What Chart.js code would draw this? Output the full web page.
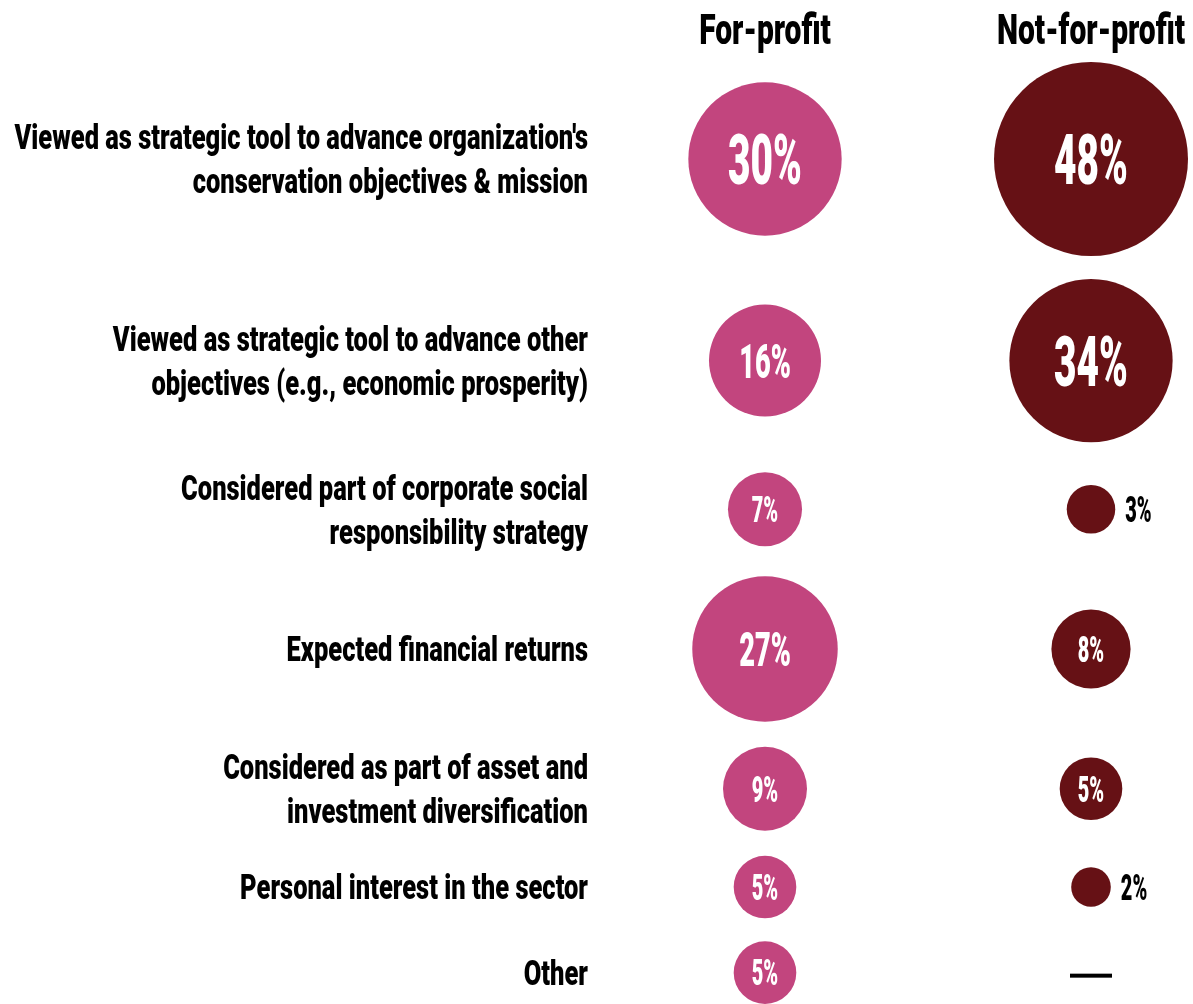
<!DOCTYPE html>
<html>
<head>
<meta charset="utf-8">
<script src="https://cdn.jsdelivr.net/npm/chart.js@4.4.1/dist/chart.umd.min.js"></script>
<style>
  html, body { margin: 0; padding: 0; background: #ffffff; }
  #wrap { width: 1193px; height: 1004px; position: relative; overflow: hidden; }
  canvas { display: block; }
</style>
</head>
<body>
<div id="wrap"><canvas id="chart" width="1193" height="1004"></canvas></div>
<script>
// Motivations for investing, one entry per row (each entry = its text lines)
const reasons = [
  ["Viewed as strategic tool to advance organization's", "conservation objectives & mission"],
  ["Viewed as strategic tool to advance other", "objectives (e.g., economic prosperity)"],
  ["Considered part of corporate social", "responsibility strategy"],
  ["Expected financial returns"],
  ["Considered as part of asset and", "investment diversification"],
  ["Personal interest in the sector"],
  ["Other"]
];
const sectors = ["For-profit", "Not-for-profit"];
// Share of respondents (%); null = no response
const forProfit = [30, 16, 7, 27, 9, 5, 5];
const notForProfit = [48, 34, 3, 8, 5, 2, null];

// ---- layout & style ----
const W = 1193, H = 1004;
const colPx = [765, 1091];          // centres of the two bubble columns
const labelRight = 588;             // right edge of the row captions
const bubbleK = 14;                 // radius = bubbleK * sqrt(value)
const rowGap = 23;
const headerBaseline = 44;
const headerGap = 18;
const lineH = 44;
const colours = ['#C2457E', '#661115'];
const FONT = 'Roboto, "Liberation Sans", sans-serif';
const WEIGHT = '900';
const condText = 0.735, condHead = 0.72, condValue = 0.56;

// Bubble controller that uses the whole canvas as its plotting area
// (the stock one shrinks the area by the largest radius).
class FullBleedBubble extends Chart.BubbleController {
  getMaxOverflow() { return 0; }
}
FullBleedBubble.id = 'fullBleedBubble';
FullBleedBubble.defaults = Chart.BubbleController.defaults;
FullBleedBubble.overrides = Chart.BubbleController.overrides;
Chart.register(FullBleedBubble);

const seriesList = [forProfit, notForProfit];
const radius = v => bubbleK * Math.sqrt(v);

// Each row takes as much room as its largest bubble or its caption block.
const extents = reasons.map((lines, i) => {
  const rMax = Math.max(...seriesList.map(s => s[i] == null ? 0 : radius(s[i])));
  return Math.max(rMax, lines.length * lineH / 2);
});
const rowY = [];
extents.forEach((e, i) => {
  if (i === 0) rowY.push(headerBaseline + headerGap + e);
  else rowY.push(rowY[i - 1] + extents[i - 1] + e + rowGap);
});

const datasets = seriesList.map((vals, c) => ({
  label: sectors[c],
  data: vals.map((v, i) => v == null ? null : { x: c, y: rowY[i], r: radius(v), v: v, row: i })
            .filter(p => p !== null),
  backgroundColor: colours[c],
  borderWidth: 0,
  hoverRadius: 0,
  hoverBorderWidth: 0,
  clip: false
}));

// Draw text squeezed horizontally to a fixed target width ratio
function condensedText(ctx, text, x, y, sx, align) {
  ctx.save();
  ctx.translate(x, y);
  ctx.scale(sx, 1);
  ctx.textAlign = align;
  ctx.textBaseline = 'alphabetic';
  ctx.fillText(text, 0, 0);
  ctx.restore();
}

// Roboto Black runs wider than Bold; keep the same overall text widths.
function widthFix(ctx, size) {
  ctx.font = 'bold ' + size + 'px ' + FONT;
  const a = ctx.measureText('Expected financial returns 0123456789%').width;
  ctx.font = WEIGHT + ' ' + size + 'px ' + FONT;
  const b = ctx.measureText('Expected financial returns 0123456789%').width;
  return a / b;
}

const annotate = {
  id: 'annotate',
  afterDatasetsDraw(chart) {
    const ctx = chart.ctx;
    const xs = chart.scales.x, ys = chart.scales.y;

    // column headers
    ctx.fillStyle = '#000';
    let fix = widthFix(ctx, 42);
    ctx.font = WEIGHT + ' 42px ' + FONT;
    sectors.forEach((s, c) => {
      condensedText(ctx, s, xs.getPixelForValue(c), headerBaseline, condHead * fix, 'center');
    });

    // row captions, right aligned and vertically centred on the row
    const capSize = 35;
    fix = widthFix(ctx, capSize);
    ctx.font = WEIGHT + ' ' + capSize + 'px ' + FONT;
    reasons.forEach((lines, i) => {
      const cy = ys.getPixelForValue(rowY[i]);
      const first = cy - (lines.length - 1) * lineH / 2 + capSize * 0.711 / 2;
      lines.forEach((ln, k) => condensedText(ctx, ln, labelRight, first + k * lineH, condText * fix, 'right'));
    });

    // value labels: inside the bubble, or beside it when the bubble is small
    chart.data.datasets.forEach((ds, di) => {
      const meta = chart.getDatasetMeta(di);
      meta.data.forEach((el, j) => {
        const p = ds.data[j];
        const { x, y } = el.getProps(['x', 'y'], true);
        const r = el.options.radius;
        const size = p.v >= 30 ? 70 : p.v >= 15 ? 49 : 36;
        const f = widthFix(ctx, size);
        ctx.font = WEIGHT + ' ' + size + 'px ' + FONT;
        const base = y + size * 0.711 / 2;
        if (p.v >= 5) {
          ctx.fillStyle = '#fff';
          condensedText(ctx, p.v + '%', x, base, condValue * f, 'center');
        } else {
          ctx.fillStyle = '#000';
          condensedText(ctx, p.v + '%', x + r + 10, base, condValue * f, 'left');
        }
      });
    });

    // dash where there is no value
    ctx.fillStyle = '#000';
    seriesList.forEach((vals, c) => {
      vals.forEach((v, i) => {
        if (v == null) {
          const x = xs.getPixelForValue(c), y = ys.getPixelForValue(rowY[i]);
          ctx.fillRect(x - 21, y + 1, 42, 4);
        }
      });
    });
  }
};

const span = colPx[1] - colPx[0];
new Chart(document.getElementById('chart'), {
  type: 'fullBleedBubble',
  data: { datasets },
  options: {
    responsive: false,
    animation: false,
    devicePixelRatio: 1,
    layout: { padding: 0 },
    events: [],
    scales: {
      x: { type: 'linear', display: false, min: -colPx[0] / span, max: (W - colPx[0]) / span },
      y: { type: 'linear', display: false, min: 0, max: H, reverse: true }
    },
    plugins: { legend: { display: false }, tooltip: { enabled: false } }
  },
  plugins: [annotate]
});
</script>
</body>
</html>
